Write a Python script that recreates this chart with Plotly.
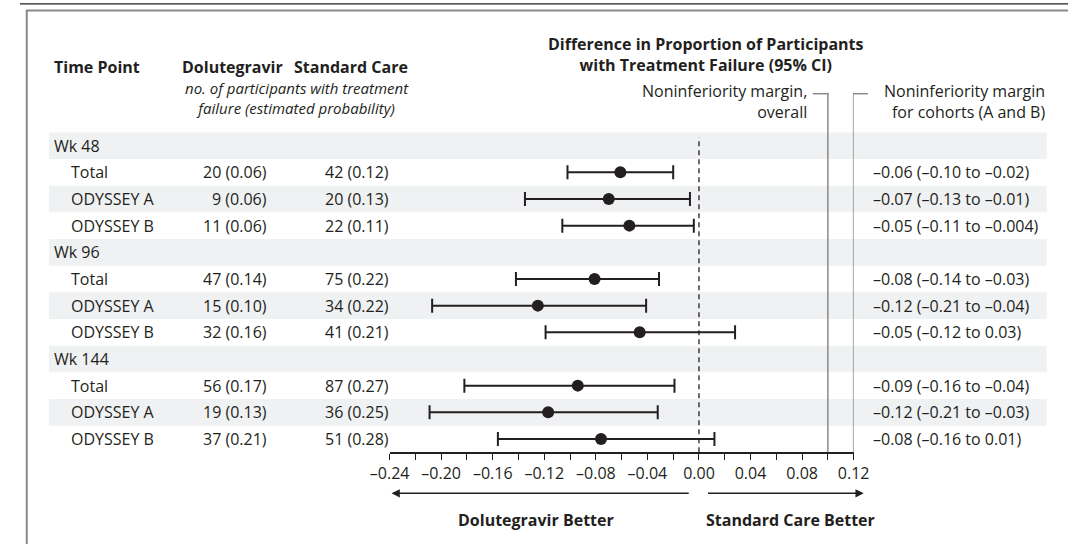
import plotly.graph_objects as go

W, H = 1084, 544
INK = "#231f20"
BAND = "#f0f1f3"
GREY = "#8a8a8a"
FONT = "Open Sans"

# ---------------- data ----------------
row_labels = ["Wk 48", "Total", "ODYSSEY A", "ODYSSEY B",
              "Wk 96", "Total", "ODYSSEY A", "ODYSSEY B",
              "Wk 144", "Total", "ODYSSEY A", "ODYSSEY B"]
row_is_header = [True, False, False, False,
                 True, False, False, False,
                 True, False, False, False]
dtg_text = ["", "20 (0.06)", "9 (0.06)", "11 (0.06)",
            "", "47 (0.14)", "15 (0.10)", "32 (0.16)",
            "", "56 (0.17)", "19 (0.13)", "37 (0.21)"]
soc_text = ["", "42 (0.12)", "20 (0.13)", "22 (0.11)",
            "", "75 (0.22)", "34 (0.22)", "41 (0.21)",
            "", "87 (0.27)", "36 (0.25)", "51 (0.28)"]
ci_text = ["", "–0.06 (–0.10 to –0.02)", "–0.07 (–0.13 to –0.01)", "–0.05 (–0.11 to –0.004)",
           "", "–0.08 (–0.14 to –0.03)", "–0.12 (–0.21 to –0.04)", "–0.05 (–0.12 to 0.03)",
           "", "–0.09 (–0.16 to –0.04)", "–0.12 (–0.21 to –0.03)", "–0.08 (–0.16 to 0.01)"]

# plotted estimates (rows with a marker)
est_rows = [1, 2, 3, 5, 6, 7, 9, 10, 11]
est_diff = [-0.061, -0.070, -0.054, -0.081, -0.125, -0.046, -0.094, -0.117, -0.076]
est_low = [-0.102, -0.135, -0.106, -0.142, -0.207, -0.119, -0.182, -0.209, -0.156]
est_high = [-0.020, -0.007, -0.004, -0.031, -0.041, 0.028, -0.019, -0.032, 0.012]

tick_vals = [-0.24, -0.22, -0.20, -0.18, -0.16, -0.14, -0.12, -0.10, -0.08, -0.06,
             -0.04, -0.02, 0.00, 0.02, 0.04, 0.06, 0.08, 0.10, 0.12]
tick_text = ["–0.24", "", "–0.20", "", "–0.16", "", "–0.12", "", "–0.08", "",
             "–0.04", "", "0.00", "", "0.04", "", "0.08", "", "0.12"]

margin_overall = 0.10
margin_cohort = 0.12

# ---------------- helpers ----------------
def px(x):
    return x / W

def py(y):
    return 1 - y / H

fig = go.Figure()

fig.add_trace(go.Scatter(
    x=est_diff, y=est_rows, mode="markers",
    marker=dict(size=12, color=INK),
    error_x=dict(type="data", symmetric=False,
                 array=[h - d for h, d in zip(est_high, est_diff)],
                 arrayminus=[d - l for d, l in zip(est_diff, est_low)],
                 thickness=2, width=7, color=INK),
    hoverinfo="skip", cliponaxis=False,
))

shapes = []
# alternating bands
for i in range(len(row_labels)):
    if i % 2 == 0:
        shapes.append(dict(type="rect", xref="paper", yref="y",
                           x0=px(30), x1=px(1062), y0=i - 0.5, y1=i + 0.5,
                           fillcolor=BAND, line=dict(width=0), layer="below"))
# frame
shapes.append(dict(type="line", xref="paper", yref="paper", x0=0, x1=1,
                   y0=py(3.8), y1=py(3.8), line=dict(color=INK, width=1.3)))
shapes.append(dict(type="line", xref="paper", yref="paper", x0=px(6), x1=1,
                   y0=py(10.5), y1=py(10.5), line=dict(color=GREY, width=2)))
shapes.append(dict(type="line", xref="paper", yref="paper", x0=px(7), x1=px(7),
                   y0=py(10.5), y1=0, line=dict(color=GREY, width=2)))
# zero line
shapes.append(dict(type="line", xref="x", yref="paper", x0=0, x1=0,
                   y0=py(452.3), y1=py(137), line=dict(color=INK, width=1.3, dash="5px,4px")))
# noninferiority margins
shapes.append(dict(type="line", xref="x", yref="paper", x0=margin_overall, x1=margin_overall,
                   y0=py(452.3), y1=py(93.7), line=dict(color=GREY, width=1.5)))
shapes.append(dict(type="line", xref="paper", yref="paper", x0=px(820), x1=px(836.6),
                   y0=py(93.7), y1=py(93.7), line=dict(color=GREY, width=1.5)))
shapes.append(dict(type="line", xref="x", yref="paper", x0=margin_cohort, x1=margin_cohort,
                   y0=py(452.3), y1=py(93.7), line=dict(color=GREY, width=1.5)))
shapes.append(dict(type="line", xref="paper", yref="paper", x0=px(861.6), x1=px(877),
                   y0=py(93.7), y1=py(93.7), line=dict(color=GREY, width=1.5)))

ann = []

def txt(text, x, y, xanchor="left", yref="paper", bold=False, italic=False, size=16):
    t = text
    if bold:
        t = "<b>" + t + "</b>"
    if italic:
        t = "<i>" + t + "</i>"
    ann.append(dict(text=t, x=px(x), xref="paper", y=(py(y) if yref == "paper" else y), yref=yref,
                    xanchor=xanchor, yanchor="middle", showarrow=False,
                    align=xanchor if xanchor != "center" else "center",
                    font=dict(family=FONT, size=size, color=INK)))

# headers
txt("Time Point", 33, 67, bold=True)
txt("Dolutegravir", 220, 67, xanchor="center", bold=True)
txt("Standard Care", 342, 67, xanchor="center", bold=True)
txt("<i>no. of participants with treatment</i><br><i>failure (estimated probability)</i>",
    287, 98.5, xanchor="center", size=15)
txt("<b>Difference in Proportion of Participants</b><br><b>with Treatment Failure (95% CI)</b>",
    710, 54.5, xanchor="center")
txt("Noninferiority margin,<br>overall", 816, 101, xanchor="right")
txt("Noninferiority margin<br>for cohorts (A and B)", 1062, 101, xanchor="right")

# table rows
for i, lab in enumerate(row_labels):
    txt(lab, 33 if row_is_header[i] else 51, i, yref="y")
    if dtg_text[i]:
        txt(dtg_text[i], 258, i, xanchor="right", yref="y")
    if soc_text[i]:
        txt(soc_text[i], 384, i, xanchor="right", yref="y")
    if ci_text[i]:
        txt(ci_text[i], 880, i, yref="y")

# direction labels
txt("Dolutegravir Better", 534, 520, xanchor="center", bold=True)
txt("Standard Care Better", 707, 520, bold=True)

# arrows
ann.append(dict(x=-0.2385, y=py(493.3), xref="x", yref="paper",
                ax=-0.0068, ay=0, axref="x", ayref="pixel", text="", showarrow=True,
                arrowhead=2, arrowsize=1.1, arrowwidth=1.5, arrowcolor=INK))
ann.append(dict(x=0.1278, y=py(493.3), xref="x", yref="paper",
                ax=0.0058, ay=0, axref="x", ayref="pixel", text="", showarrow=True,
                arrowhead=2, arrowsize=1.1, arrowwidth=1.5, arrowcolor=INK))

fig.update_layout(
    width=W, height=H,
    margin=dict(l=0, r=0, t=0, b=0, pad=0),
    paper_bgcolor="white", plot_bgcolor="rgba(0,0,0,0)",
    showlegend=False,
    font=dict(family=FONT, size=16, color=INK),
    xaxis=dict(domain=[px(382.3), px(862.3)], range=[-0.24, 0.12],
               tickmode="array", tickvals=tick_vals, ticktext=tick_text,
               ticks="outside", ticklen=6, tickwidth=1.3, tickcolor=INK,
               showline=True, linecolor=INK, linewidth=1.5,
               showgrid=False, zeroline=False, fixedrange=True,
               tickfont=dict(family=FONT, size=16, color=INK)),
    yaxis=dict(domain=[py(452.3), py(132.3)], range=[11.5, -0.5],
               visible=False, fixedrange=True),
    shapes=shapes, annotations=ann,
)

fig.write_html("out.html", config={"displayModeBar": False},
               post_script="document.body.style.margin='0';document.body.style.overflow='hidden';")
